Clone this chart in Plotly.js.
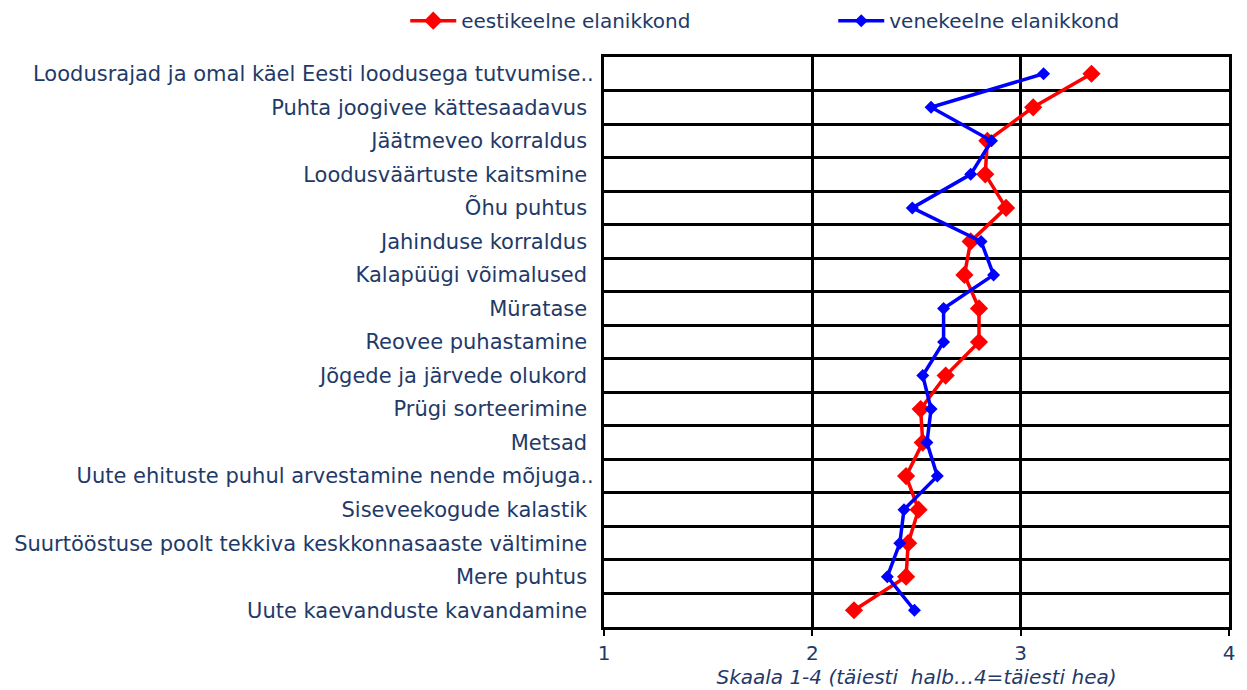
<!DOCTYPE html>
<html>
<head>
<meta charset="utf-8">
<script src="https://cdn.plot.ly/plotly-3.0.1.min.js"></script>
<style>html,body{margin:0;padding:0;background:#fff;}#chart{width:1247px;height:690px;}</style>
</head>
<body>
<div id="chart"></div>
<script>
var categories = [
  "Loodusrajad ja omal käel Eesti loodusega tutvumise..",
  "Puhta joogivee kättesaadavus\u00a0",
  "Jäätmeveo korraldus\u00a0",
  "Loodusväärtuste kaitsmine\u00a0",
  "Õhu puhtus\u00a0",
  "Jahinduse korraldus\u00a0",
  "Kalapüügi võimalused\u00a0",
  "Müratase\u00a0",
  "Reovee puhastamine\u00a0",
  "Jõgede ja järvede olukord\u00a0",
  "Prügi sorteerimine\u00a0",
  "Metsad\u00a0",
  "Uute ehituste puhul arvestamine nende mõjuga..",
  "Siseveekogude kalastik\u00a0",
  "Suurtööstuse poolt tekkiva keskkonnasaaste vältimine\u00a0",
  "Mere puhtus\u00a0",
  "Uute kaevanduste kavandamine\u00a0"
];
var estonianValues = [3.34, 3.06, 2.84, 2.83, 2.93, 2.76, 2.73, 2.80, 2.80, 2.64, 2.52, 2.53, 2.45, 2.51, 2.46, 2.45, 2.20];
var russianValues  = [3.11, 2.57, 2.86, 2.76, 2.48, 2.81, 2.87, 2.63, 2.63, 2.53, 2.57, 2.55, 2.60, 2.44, 2.42, 2.36, 2.49];
var seriesNames = ["eestikeelne elanikkond", "venekeelne elanikkond"];
var xTickValues = [1, 2, 3, 4];

var textColor = "#1F3A68";
var traces = [
  {
    type: "scatter", mode: "lines+markers", name: seriesNames[0],
    x: estonianValues, y: categories,
    line: {color: "#FF0000", width: 3.5},
    marker: {symbol: "diamond", size: 14, color: "#FF0000"}
  },
  {
    type: "scatter", mode: "lines+markers", name: seriesNames[1],
    x: russianValues, y: categories,
    line: {color: "#0000FF", width: 3.5},
    marker: {symbol: "diamond", size: 10, color: "#0000FF"}
  }
];
var layout = {
  width: 1247, height: 690,
  margin: {l: 604, r: 18, t: 57, b: 63, pad: 0, autoexpand: false},
  paper_bgcolor: "#fff", plot_bgcolor: "#fff",
  font: {family: "DejaVu Sans, Verdana, sans-serif", size: 21, color: textColor},
  showlegend: true,
  legend: {
    orientation: "h", xref: "paper", yref: "paper",
    x: -0.318, y: 1.098, xanchor: "left", yanchor: "top",
    font: {size: 20, color: textColor},
    itemwidth: 46, entrywidth: 367,
    bgcolor: "rgba(0,0,0,0)"
  },
  xaxis: {
    range: [1, 4], tickvals: xTickValues, ticktext: xTickValues.map(String),
    showgrid: true, gridcolor: "#000", gridwidth: 3,
    showline: true, linecolor: "#000", linewidth: 3, mirror: true,
    ticks: "outside", ticklen: 6, tickwidth: 2, tickcolor: "#000",
    zeroline: false, fixedrange: true,
    tickfont: {size: 20, color: textColor},
    title: {text: "Skaala 1-4 (täiesti  halb…4=täiesti hea)", font: {size: 20, color: textColor}, standoff: 0}
  },
  yaxis: {
    type: "category", categoryorder: "array", categoryarray: categories,
    range: [16.5, -0.5], tickson: "boundaries",
    showgrid: true, gridcolor: "#000", gridwidth: 3,
    showline: true, linecolor: "#000", linewidth: 3, mirror: true,
    ticks: "", ticklabelstandoff: 3, fixedrange: true,
    tickfont: {size: 21, color: textColor}
  }
};
Plotly.newPlot("chart", traces, layout, {displayModeBar: false, staticPlot: true}).then(function(){
  var t = document.querySelector('.xtitle');
  if (t) t.style.fontStyle = 'italic';
});
</script>
</body>
</html>
